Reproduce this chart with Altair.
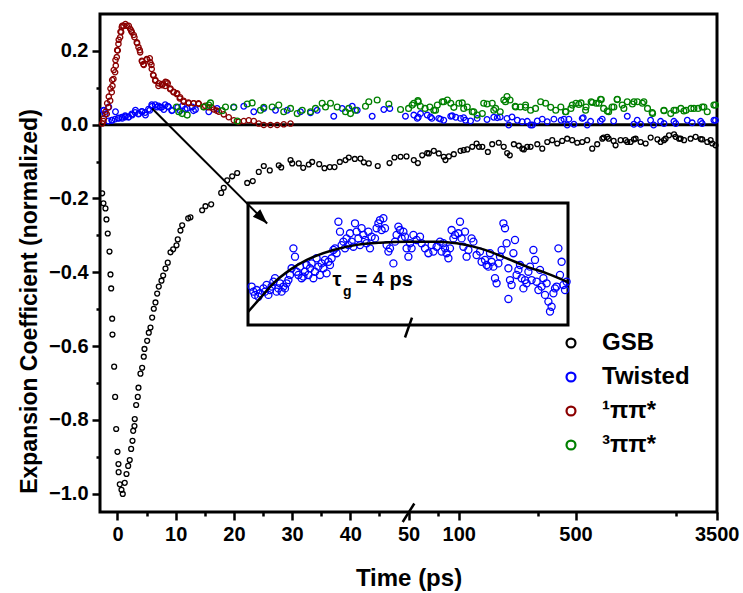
import altair as alt
import pandas as pd
import math

FONT = "Liberation Sans"

# ---------------- data: (time in ps, normalized coefficient) ----------------
gsb = [(-2.63,-0.186),(-2.41,-0.213),(-2.06,-0.227),(-1.89,-0.257),(-1.67,-0.295),(-1.37,-0.344),(-1.20,-0.406),
       (-1.08,-0.444),(-0.91,-0.526),(-0.86,-0.569),(-0.57,-0.656),(-0.40,-0.738),(-0.22,-0.825),(0.00,-0.887),
       (0.17,-0.920),(0.20,-0.942),(0.40,-0.975),(0.69,-0.990),(0.91,-1.001),(1.25,-0.971),(1.55,-0.947),
       (1.84,-0.925),(2.11,-0.909),(2.35,-0.879),(2.58,-0.857),(2.70,-0.830),(2.92,-0.817),(2.97,-0.798),
       (3.21,-0.760),(3.49,-0.738),(3.61,-0.713),(3.95,-0.675),(4.24,-0.659),(4.52,-0.629),(4.64,-0.608),
       (5.10,-0.586),(5.38,-0.564),(5.67,-0.550),(5.96,-0.523),(6.24,-0.499),(6.53,-0.482),(6.82,-0.458),
       (7.10,-0.439),(7.56,-0.423),(7.85,-0.409),(8.25,-0.390),(8.64,-0.374),(9.11,-0.346),(9.57,-0.338),
       (10.14,-0.327),(10.36,-0.311),(10.82,-0.287),(11.12,-0.273),(12.15,-0.254),(12.54,-0.251),(14.55,-0.232),
       (15.12,-0.221),(16.10,-0.216),(17.82,-0.185),(18.26,-0.171),(18.85,-0.151),(19.71,-0.140),(20.57,-0.131),
       (22.29,-0.158),(23.25,-0.153),(24.28,-0.128),(25.14,-0.112),(26.17,-0.124),(27.71,-0.110),(28.13,-0.116),
       (29.73,-0.096),(30.02,-0.105),(31.15,-0.105),(31.91,-0.117),(32.87,-0.108),(33.45,-0.101),(34.66,-0.107),
       (35.57,-0.118),(36.48,-0.115),(37.29,-0.115),(38.20,-0.101),(39.18,-0.096),(39.74,-0.089),(40.77,-0.093),
       (41.75,-0.092),(42.32,-0.102),(43.18,-0.105),(44.72,-0.112),(46.74,-0.104),(47.59,-0.089),(48.63,-0.087),
       (49.66,-0.086),(53.8,-0.096),(56.9,-0.104),(60.4,-0.083),(64.7,-0.077),(66.2,-0.078),(70.9,-0.071),
       (75.9,-0.078),(81.3,-0.087),(83.2,-0.096),(87.2,-0.086),(93.4,-0.080),(102.4,-0.071),(107,-0.069),
       (112.4,-0.067),(120.4,-0.060),(127.8,-0.051),(132,-0.060),(138.3,-0.060),(149.3,-0.074),(158.5,-0.053),
       (173.5,-0.049),(185.8,-0.060),(194.8,-0.077),(202,-0.083),(213.6,-0.053),(228.9,-0.057),(240,-0.065),
       (245.3,-0.067),(257,-0.060),(269,-0.060),(295,-0.053),(316,-0.065),(338.5,-0.047),(362.6,-0.042),
       (388.4,-0.051),(416,-0.044),(445.6,-0.038),(477.4,-0.042),(511.7,-0.049),(548,-0.047),(587,-0.042),
       (629,-0.065),(674,-0.053),(723,-0.038),(736,-0.035),(774,-0.033),(789,-0.038),(845,-0.044),(868,-0.056),
       (930,-0.042),(996,-0.042),(1020,-0.047),(1068,-0.047),(1117,-0.040),(1144,-0.038),(1226,-0.047),
       (1314,-0.051),(1408,-0.035),(1546,-0.040),(1615,-0.047),(1692,-0.042),(1730,-0.038),(1813,-0.029),
       (1943,-0.026),(1986,-0.033),(2082,-0.038),(2128,-0.038),(2231,-0.042),(2441,-0.038),(2617,-0.033),
       (2805,-0.039),(2865,-0.040),(3070,-0.047),(3217,-0.042),(3290,-0.051),(3440,-0.056)]

twisted = [(-2.41,0.038),(-2.35,0.039),(-2.11,0.029),(-1.55,0.010),(-1.49,0.048),(-0.98,0.012),(-0.91,0.012),
           (-0.40,0.015),(-0.34,0.035),(0.17,0.018),(0.22,0.017),(0.74,0.020),(0.81,0.017),(1.32,0.024),
           (1.37,0.021),(1.89,0.021),(1.94,0.021),(2.46,0.029),(2.53,0.026),(3.04,0.033),(3.09,0.039),
           (3.61,0.029),(3.66,0.030),(4.18,0.036),(4.24,0.035),(4.76,0.033),(4.81,0.026),(5.33,0.042),
           (5.55,0.039),(5.89,0.054),(5.96,0.050),(6.48,0.054),(6.82,0.048),(7.04,0.051),(7.39,0.047),
           (7.61,0.047),(7.96,0.041),(8.20,0.054),(8.64,0.050),(8.76,0.048),(9.33,0.038),(9.40,0.039),
           (10.36,0.047),(10.77,0.038),(11.12,0.050),(11.63,0.042),(11.98,0.044),(12.84,0.048),(13.06,0.038),
           (13.40,0.041),(15.69,0.035),(17.13,0.044),(19.98,0.047),(21.70,0.050),(23.42,0.035),(25.14,0.044),
           (27.15,0.039),(29.16,0.039),(31.44,0.035),(33.16,0.032),(34.31,0.039),(37.16,0.023),(38.61,0.044),
           (40.33,0.050),(41.19,0.039),(43.76,0.023),(45.76,0.041),(46.79,0.044),(49.48,0.023),(53.8,0.026),
           (56.4,0.017),(57.2,0.020),(59,0.030),(64.7,0.026),(67.7,0.021),(69.0,0.017),(75.9,0.017),(77.7,0.015),
           (81.3,0.012),(89.5,0.023),(91.3,0.024),(95.9,0.020),(102.4,0.017),(107,0.019),(109.7,0.012),
           (117.6,0.010),(128.8,0.017),(147.6,0.014),(161.9,0.020),(170,0.019),(177.0,0.021),(194.4,0.017),
           (199,-0.001),(208.3,0.021),(224,0.012),(239.6,0.008),(257,0.009),(269,-0.001),(276,-0.001),
           (295,0.010),(316,0.015),(338.5,0.008),(371,0.015),(410,0.012),(426,0.015),(445.6,-0.001),(456,0.015),
           (489,0.001),(548,0.017),(556,0.019),(587,-0.001),(615,0.009),(704,0.010),(722,0.015),(845,0.010),
           (1020,0.023),(1117,0.001),(1170,0.012),(1226,0.001),(1406,0.012),(1467,-0.001),(1615,0.009),
           (1692,0.003),(1940,0.009),(1989,0.003),(2332,0.012),(2495,0.005),(2805,0.009),(2863,0.003),
           (3366,0.012),(3440,0.012)]

singlet = [(-2.63,0.003),(-2.41,0.010),(-2.35,0.017),(-2.06,0.035),(-1.84,0.029),(-1.77,0.058),(-1.55,0.047),
           (-1.49,0.076),(-1.25,0.065),(-1.20,0.098),(-0.98,0.088),(-0.91,0.121),(-0.86,0.105),(-0.69,0.124),
           (-0.64,0.148),(-0.40,0.142),(-0.34,0.175),(-0.29,0.160),(-0.12,0.183),(-0.05,0.202),(0.05,0.201),
           (0.17,0.219),(0.22,0.230),(0.46,0.237),(0.52,0.252),(0.64,0.251),(0.74,0.264),(0.81,0.268),
           (1.03,0.268),(1.37,0.273),(1.60,0.268),(1.94,0.268),(2.18,0.260),(2.35,0.255),(2.46,0.251),
           (2.80,0.243),(2.92,0.237),(3.32,0.223),(3.38,0.221),(3.61,0.210),(3.83,0.202),(3.90,0.196),
           (4.18,0.173),(4.24,0.171),(4.47,0.164),(4.52,0.162),(5.03,0.178),(5.10,0.177),(5.55,0.180),
           (5.62,0.169),(5.84,0.162),(5.89,0.151),(6.13,0.135),(6.19,0.133),(6.48,0.119),(6.53,0.121),
           (7.04,0.105),(7.10,0.112),(7.61,0.110),(7.68,0.107),(8.20,0.105),(8.25,0.116),(8.47,0.115),
           (8.64,0.112),(9.05,0.096),(9.11,0.098),(9.62,0.088),(9.67,0.089),(10.19,0.083),(10.26,0.085),
           (10.70,0.071),(10.77,0.074),(11.34,0.065),(11.39,0.062),(12.20,0.060),(12.25,0.058),(13.06,0.058),
           (13.11,0.058),(13.92,0.058),(13.97,0.056),(14.83,0.048),(15.07,0.051),(15.69,0.047),(16.20,0.047),
           (16.55,0.041),(17.06,0.038),(17.41,0.035),(18.26,0.028),(19.12,0.020),(19.98,0.012),(20.84,0.008),
           (21.70,0.010),(22.56,0.012),(23.42,0.010),(24.28,0.003),(25.14,-0.001),(26.29,-0.001),(27.44,-0.001),
           (28.57,0.001),(29.73,0.003)]

triplet = [(10.14,0.048),(10.53,0.035),(11.12,0.030),(11.98,0.026),(14.83,0.048),(15.69,0.053),(15.98,0.059),
           (17.99,0.038),(18.56,0.048),(19.98,0.048),(20.57,0.010),(22.29,0.056),(23.14,0.059),(24.57,0.039),
           (25.14,0.047),(26.58,0.048),(27.71,0.053),(28.57,0.035),(29.73,0.044),(30.88,0.030),(31.74,0.039),
           (33.16,0.035),(34.02,0.044),(35.17,0.058),(35.74,0.048),(36.60,0.058),(37.75,0.048),(39.18,0.035),
           (39.74,0.044),(40.03,0.030),(40.89,0.039),(42.61,0.050),(43.18,0.062),(44.62,0.067),(46.62,0.056),
           (48.63,0.041),(50.05,0.044),(52.6,0.053),(53.8,0.058),(56.9,0.065),(57.2,0.062),(58.9,0.050),
           (62.8,0.044),(67.1,0.048),(70.9,0.039),(72.6,0.039),(74.4,0.053),(79.6,0.062),(81.3,0.062),
           (85.4,0.067),(89.5,0.058),(93.4,0.047),(100.2,0.058),(104.9,0.059),(107,0.044),(112.4,0.048),
           (120.4,0.035),(123,0.035),(128.8,0.026),(138.3,0.030),(141,0.058),(147.6,0.056),(158.5,0.058),
           (162,0.039),(166.1,0.044),(177,0.035),(186,0.067),(190.5,0.062),(194.4,0.076),(202.7,0.067),
           (217.6,0.050),(219,0.048),(233.4,0.048),(250.4,0.047),(251,0.053),(269,0.039),(288,0.044),
           (309,0.062),(331,0.058),(355,0.047),(380.5,0.039),(408,0.048),(435,0.035),(438,0.035),(469,0.044),
           (478,0.053),(503,0.058),(523,0.055),(539,0.059),(574,0.039),(578,0.048),(620,0.062),(630,0.060),
           (665,0.058),(690,0.058),(706,0.069),(713,0.068),(736,0.044),(774,0.037),(789,0.035),(827,0.048),
           (848,0.048),(887,0.068),(889,0.069),(951,0.053),(973,0.044),(1020,0.062),(1094,0.056),(1118,0.062),
           (1173,0.062),(1257,0.058),(1282,0.062),(1348,0.044),(1438,0.033),(1446,0.030),(1690,0.039),
           (1692,0.038),(1857,0.030),(1940,0.039),(1991,0.039),(2135,0.044),(2227,0.037),(2291,0.039),
           (2457,0.044),(2555,0.044),(2706,0.044),(2863,0.048),(2933,0.048),(3071,0.035),(3366,0.053),
           (3440,0.053)]

# inset: zoomed twisted-state rise/decay with its fit (inset units)
inset_pts = [(0.18,0.0189),(0.27,0.0164),(0.35,0.0148),(0.43,0.0172),(0.52,0.0139),(0.60,0.0156),(0.77,0.0180),
             (0.85,0.0164),(0.93,0.0197),(1.02,0.0148),(1.10,0.0172),(1.18,0.0189),(1.27,0.0213),(1.35,0.0230),
             (1.43,0.0164),(1.52,0.0180),(1.60,0.0205),(1.68,0.0164),(1.77,0.0189),(1.85,0.0180),(1.93,0.0205),
             (2.02,0.0221),(2.10,0.0246),(2.18,0.0279),(2.27,0.0377),(2.35,0.0336),(2.43,0.0262),(2.52,0.0246),
             (2.60,0.0287),(2.68,0.0230),(2.77,0.0238),(2.85,0.0262),(2.93,0.0295),(3.02,0.0246),(3.10,0.0279),
             (3.18,0.0303),(3.27,0.0230),(3.35,0.0262),(3.43,0.0328),(3.52,0.0287),(3.60,0.0246),(3.68,0.0303),
             (3.77,0.0279),(3.85,0.0320),(3.93,0.0254),(4.02,0.0311),(4.10,0.0295),(4.18,0.0328),(4.27,0.0369),
             (4.35,0.0377),(4.43,0.0353),(4.52,0.0508),(4.60,0.0459),(4.68,0.0393),(4.77,0.0410),(4.85,0.0377),
             (4.93,0.0426),(5.02,0.0393),(5.10,0.0451),(5.18,0.0410),(5.27,0.0385),(5.35,0.0500),(5.43,0.0459),
             (5.52,0.0426),(5.60,0.0393),(5.68,0.0476),(5.77,0.0443),(5.85,0.0418),(5.93,0.0402),(6.02,0.0459),
             (6.10,0.0377),(6.18,0.0434),(6.35,0.0426),(6.43,0.0476),(6.52,0.0500),(6.60,0.0516),(6.68,0.0467),
             (6.77,0.0525),(6.85,0.0476),(6.93,0.0393),(7.02,0.0361),(7.10,0.0377),(7.27,0.0303),(7.35,0.0410),
             (7.43,0.0443),(7.52,0.0484),(7.60,0.0467),(7.68,0.0426),(7.77,0.0459),(7.85,0.0434),(7.93,0.0377),
             (8.02,0.0336),(8.10,0.0402),(8.18,0.0377),(8.27,0.0443),(8.43,0.0418),(8.60,0.0434),(8.68,0.0402),
             (8.85,0.0377),(9.02,0.0353),(9.18,0.0393),(9.27,0.0361),(9.43,0.0385),(9.60,0.0410),(9.68,0.0361),
             (9.77,0.0402),(9.85,0.0377),(9.93,0.0353),(10.02,0.0328),(10.10,0.0377),(10.18,0.0467),(10.27,0.0426),
             (10.35,0.0443),(10.52,0.0451),(10.60,0.0508),(10.68,0.0426),(10.77,0.0385),(10.85,0.0459),
             (10.93,0.0336),(11.02,0.0369),(11.18,0.0426),(11.27,0.0410),(11.43,0.0344),(11.60,0.0361),
             (11.68,0.0311),(11.85,0.0320),(11.93,0.0295),(12.02,0.0287),(12.10,0.0353),(12.18,0.0311),
             (12.27,0.0287),(12.35,0.0230),(12.43,0.0205),(12.52,0.0303),(12.60,0.0336),(12.68,0.0369),
             (12.77,0.0500),(12.85,0.0476),(12.93,0.0402),(13.02,0.0279),(13.02,0.0128),(13.10,0.0221),
             (13.18,0.0197),(13.27,0.0353),(13.35,0.0418),(13.43,0.0246),(13.52,0.0271),(13.60,0.0295),
             (13.68,0.0230),(13.77,0.0180),(13.85,0.0221),(13.93,0.0205),(14.02,0.0262),(14.10,0.0287),
             (14.18,0.0221),(14.27,0.0369),(14.35,0.0320),(14.43,0.0213),(14.52,0.0172),(14.60,0.0271),
             (14.68,0.0189),(14.77,0.0230),(14.85,0.0148),(14.93,0.0205),(15.02,0.0115),(15.10,0.0066),
             (15.18,0.0090),(15.27,0.0156),(15.35,0.0180),(15.43,0.0189),(15.52,0.0377),(15.60,0.0246),
             (15.68,0.0311),(15.77,0.0197),(15.85,0.0172),(15.93,0.0213)]
inset_fit = [(0.0,0.0064),(0.6,0.0131),(1.27,0.0205),(2.1,0.0271),(2.94,0.0320),(4.27,0.0369),(5.44,0.0394),
             (6.6,0.0405),(7.94,0.0410),(9.6,0.0410),(10.44,0.0402),(11.6,0.0377),(12.94,0.0328),(13.94,0.0287),
             (14.94,0.0254),(16.0,0.0211)]
inset_x_domain = [0, 16]
inset_y_domain = [0, 0.06]
inset_label = [("\u03c4", 4.22, 0.0221, 20), ("g", 4.75, 0.0160, 14), ("= 4 ps", 5.38, 0.0221, 20)]

series_names = ["GSB", "\u00a0Twisted", "\u00a0\u00b9\u03c0\u03c0*", "\u00a0\u00b3\u03c0\u03c0*"]
series_colors = ["#000000", "#0000ff", "#8b0000", "#008000"]
series_sizes = [24, 32, 28, 34]

major_ticks = [0, 10, 20, 30, 40, 50, 100, 500, 3500]
major_labels = ["0", "10", "20", "30", "40", "50", "100", "500", "3500"]
minor_ticks = [5, 15, 25, 35, 45, 75, 300, 2000]
y_major = [-1.0, -0.8, -0.6, -0.4, -0.2, 0.0, 0.2]
y_minor = [-0.9, -0.7, -0.5, -0.3, -0.1, 0.1]

# arrow from the twisted trace to the inset; axis-break marks
arrow = [(5.96, 0.044, 25.72, -0.268)]
breaks = [(49.0, -1.077, 51.0, -1.027), (49.4, -0.577, 50.6, -0.523)]

# ---------------- broken axis: linear up to 50 ps, logarithmic after ----------------
BREAK = 50
PER_DECADE = 28.7
def to_u(t):
    return t if t <= BREAK else BREAK + PER_DECADE * math.log10(t / BREAK)
u_expr = f"datum.t <= {BREAK} ? datum.t : {BREAK} + {PER_DECADE} * log(datum.t / {BREAK}) / LN10"

x_major_pos = [round(to_u(t), 4) for t in major_ticks]
x_minor_pos = [round(to_u(t), 4) for t in minor_ticks]
x_label_expr = "''"
for p, lab in zip(reversed(x_major_pos), reversed(major_labels)):
    x_label_expr = f"abs(datum.value - {p}) < 0.01 ? '{lab}' : ({x_label_expr})"

W, H = 617, 498
X_DOMAIN = [-3, 103]
Y_DOMAIN = [-1.05, 0.30]

def xs():
    return alt.Scale(domain=X_DOMAIN, nice=False, zero=False)

def ys():
    return alt.Scale(domain=Y_DOMAIN, nice=False, zero=False)

common_axis = dict(tickWidth=2.5, tickColor="black", domain=False, grid=False,
                   labelFont=FONT, labelFontSize=20, labelFontWeight="bold", labelColor="black",
                   labelPadding=4, labelFlush=False, labelOverlap=False,
                   titleFont=FONT, titleFontWeight="bold", titleColor="black")
xaxis = alt.Axis(values=x_major_pos, labelExpr=x_label_expr, tickSize=8, orient="bottom",
                 title="Time (ps)", titleFontSize=24, titleX=W / 2, titleY=66, titleBaseline="middle",
                 **common_axis)
yaxis = alt.Axis(values=y_major, format=".1f", tickSize=8, orient="left",
                 title="Expansion Coefficient (normalized)", titleFontSize=23, titleX=-71, titleY=287,
                 titleBaseline="middle", titleAlign="center", titleAngle=270, **common_axis)
xaxis_minor = alt.Axis(values=x_minor_pos, tickSize=4, labels=False, title=None, orient="bottom",
                       tickWidth=2.5, tickColor="black", domain=False, grid=False)
yaxis_minor = alt.Axis(values=y_minor, tickSize=4, labels=False, title=None, orient="left",
                       tickWidth=2.5, tickColor="black", domain=False, grid=False)

rows = []
for name, data in zip(series_names, [gsb, twisted, singlet, triplet]):
    for t, v in data:
        rows.append({"series": name, "t": t, "v": v})
main_df = pd.DataFrame(rows)

legend = alt.Legend(title=None, orient="none", legendX=459, legendY=317,
                    symbolType="circle", symbolSize=80, symbolStrokeWidth=2.2,
                    labelFont=FONT, labelFontSize=24, labelFontWeight="bold",
                    labelColor="black", rowPadding=10, labelOffset=19,
                    padding=0, labelLimit=300)

zero = alt.Chart(pd.DataFrame({"v": [0.0]})).mark_rule(color="black", strokeWidth=3).encode(
    y=alt.Y("v:Q", scale=ys(), axis=yaxis))

series_layers = []
for name, size in zip(series_names, series_sizes):
    series_layers.append(
        alt.Chart(main_df).transform_filter(alt.datum.series == name).transform_calculate(u=u_expr)
        .mark_point(filled=False, strokeWidth=1.3, opacity=1, size=size)
        .encode(
            x=alt.X("u:Q", scale=xs(), axis=xaxis),
            y=alt.Y("v:Q", scale=ys(), axis=yaxis),
            color=alt.Color("series:N", scale=alt.Scale(domain=series_names, range=series_colors),
                            legend=legend),
        )
    )

arrow_df = pd.DataFrame(arrow, columns=["t0", "v0", "t1", "v1"])
arrow_line = alt.Chart(arrow_df).mark_rule(color="black", strokeWidth=2).encode(
    x=alt.X("t0:Q", scale=xs(), axis=xaxis), x2="t1:Q",
    y=alt.Y("v0:Q", scale=ys(), axis=yaxis), y2="v1:Q")
arrow_head = alt.Chart(arrow_df).mark_point(
    shape="M0,0L-2,-0.7L-2,0.7Z", angle=45, filled=True, color="black", size=225, opacity=1
).encode(x=alt.X("t1:Q", scale=xs(), axis=xaxis), y=alt.Y("v1:Q", scale=ys(), axis=yaxis))

breaks_df = pd.DataFrame(breaks, columns=["t0", "v0", "t1", "v1"])
break_marks = alt.Chart(breaks_df).mark_rule(color="black", strokeWidth=2.5).encode(
    x=alt.X("t0:Q", scale=xs(), axis=xaxis), x2="t1:Q",
    y=alt.Y("v0:Q", scale=ys(), axis=yaxis), y2="v1:Q")

main = alt.layer(zero, *series_layers, arrow_line, arrow_head, break_marks)

# minor ticks: an invisible layer with the same scales and tick-only axes
minor = alt.Chart(pd.DataFrame({"u": [0.0], "v": [0.0]})).mark_point(opacity=0).encode(
    x=alt.X("u:Q", scale=xs(), axis=xaxis_minor),
    y=alt.Y("v:Q", scale=ys(), axis=yaxis_minor))

# ---------------- inset with its own scales placed inside the plot ----------------
ix = alt.Scale(domain=inset_x_domain, range=[148, 468], nice=False, zero=False)
iy = alt.Scale(domain=inset_y_domain, range=[311, 189], nice=False, zero=False)

box = alt.Chart(pd.DataFrame({"x0": [inset_x_domain[0]], "x1": [inset_x_domain[1]],
                              "y0": [inset_y_domain[0]], "y1": [inset_y_domain[1]]})).mark_rect(
    fillOpacity=0, stroke="black", strokeWidth=3
).encode(x=alt.X("x0:Q", scale=ix, axis=None), x2="x1:Q",
         y=alt.Y("y0:Q", scale=iy, axis=None), y2="y1:Q")
ipts = alt.Chart(pd.DataFrame(inset_pts, columns=["t", "v"])).mark_point(
    filled=False, color="#0000ff", size=50, strokeWidth=1.3, opacity=1
).encode(x=alt.X("t:Q", scale=ix, axis=None), y=alt.Y("v:Q", scale=iy, axis=None))
ifit = alt.Chart(pd.DataFrame(inset_fit, columns=["t", "v"])).mark_line(
    color="black", strokeWidth=2.5, interpolate="monotone"
).encode(x=alt.X("t:Q", scale=ix, axis=None), y=alt.Y("v:Q", scale=iy, axis=None))
itexts = []
for txt, tx, ty, fs in inset_label:
    itexts.append(alt.Chart(pd.DataFrame({"t": [tx], "v": [ty], "s": [txt]})).mark_text(
        align="left", baseline="middle", font=FONT, fontWeight="bold", fontSize=fs, color="black"
    ).encode(x=alt.X("t:Q", scale=ix, axis=None), y=alt.Y("v:Q", scale=iy, axis=None), text="s:N"))

inset = alt.layer(box, ipts, ifit, *itexts)

chart = alt.layer(main, minor, inset).resolve_scale(x="independent", y="independent").properties(
    width=W, height=H,
    padding={"left": 100, "top": 14, "right": 26, "bottom": 81},
    autosize=alt.AutoSizeParams(type="none"),
    background="white",
).configure_view(stroke="black", strokeWidth=3)

chart.save("out.html", embed_options={"renderer": "svg", "actions": False})
